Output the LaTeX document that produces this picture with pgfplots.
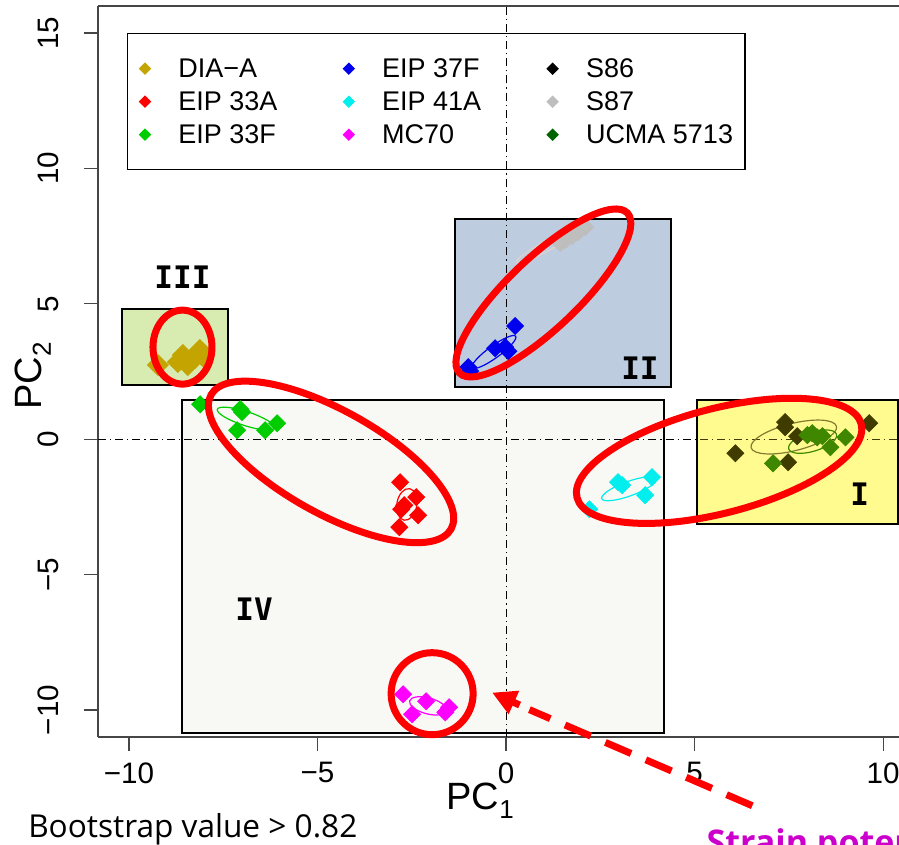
\documentclass[border=0pt]{standalone}
\usepackage{pgfplots}
\pgfplotsset{compat=1.18}
\usetikzlibrary{arrows.meta}
\usepackage{fontspec}
\setmainfont{Liberation Sans}
\newfontfamily\monob{DejaVu Sans Mono}
\newfontfamily\bootfont{Open Sans}
\definecolor{cDIA}{RGB}{196,164,0}
\definecolor{c33A}{RGB}{255,0,0}
\definecolor{c33F}{RGB}{0,205,0}
\definecolor{c37F}{RGB}{0,0,238}
\definecolor{c41A}{RGB}{0,238,238}
\definecolor{cMC}{RGB}{255,0,255}
\definecolor{cS86}{RGB}{0,0,0}
\definecolor{cS87}{RGB}{190,190,190}
\definecolor{cUCMA}{RGB}{0,100,0}
\definecolor{boxIII}{RGB}{216,236,178}
\definecolor{boxII}{RGB}{190,204,224}
\definecolor{boxIV}{RGB}{248,248,244}
\definecolor{boxI}{RGB}{255,255,190}
\definecolor{axgray}{RGB}{70,70,70}
\definecolor{strain}{RGB}{204,0,204}
\begin{document}
\begin{tikzpicture}
\begin{axis}[
  set layers,
  at={(0pt,0pt)}, anchor=south west,
  scale only axis, width=400.5pt, height=365.5pt,
  xmin=-10.82, xmax=10.42, ymin=-11.0, ymax=16.0,
  clip=false,
  axis x line*=bottom, axis y line*=left,
  axis line style={axgray, line width=0.6pt},
  xtick={-10,-5,0,5,10}, xticklabels={−10,−5,0,5,10},
  ytick={-10,-5,0,5,10,15}, yticklabels={−10,−5,0,5,10,15},
  tick align=outside, major tick length=7pt,
  tick style={axgray, line width=0.6pt},
  ticklabel style={font=\fontsize{14.8}{16}\selectfont, inner sep=0pt},
  xticklabel style={anchor=north},
  yticklabel style={rotate=90, anchor=south},
  xticklabel shift=5.5pt, yticklabel shift=12.5pt,
  pt/.style={only marks, mark=square*, mark size=3pt, mark options={rotate=45, draw=#1, fill=#1}},
  legend columns=3, transpose legend,
  legend cell align=left,
  legend image code/.code={\draw[#1, mark size=1.9pt] plot coordinates {(0pt,0pt)};},
  legend style={at={(axis cs:-10.05,15.0)}, anchor=north west, draw=black, line width=0.6pt, fill=none,
     font=\fontsize{13.5}{15}\selectfont, inner xsep=6pt, inner ysep=11.5pt,
     nodes={inner sep=0pt, text height=10.5pt, text depth=1.5pt},
     row sep=4.5pt, column sep=0pt,
     /tikz/every odd column/.append style={column sep=14pt},
     /tikz/every even column/.append style={column sep=33pt}},
]
% background boxes
\begin{pgfonlayer}{axis background}
\filldraw[fill=boxIII, draw=black, line width=1pt] (axis cs:-10.19,2.0) rectangle (axis cs:-7.36,4.81);
\filldraw[fill=boxII, draw=black, line width=1pt] (axis cs:-1.36,1.94) rectangle (axis cs:4.37,8.14);
\filldraw[fill=boxIV, draw=black, line width=1pt] (axis cs:-8.58,-10.85) rectangle (axis cs:4.18,1.45);
\filldraw[fill=boxI, draw=black, line width=1pt] (axis cs:5.06,-3.13) rectangle (axis cs:10.40,1.45);
\end{pgfonlayer}
% reference lines
\draw[black, line width=0.5pt, dash pattern=on 4pt off 2pt on 0.6pt off 2pt] (axis cs:0,-11) -- (axis cs:0,16);
\draw[black, line width=0.5pt, dash pattern=on 4pt off 2pt on 0.6pt off 2pt] (axis cs:-10.82,0) -- (axis cs:10.42,0);
\draw[axgray, line width=0.6pt] (rel axis cs:0,1) -- (rel axis cs:1,1);
% confidence ellipses of the strains
\draw[c37F, line width=0.6pt, rotate around={36:(axis cs:-0.32,3.22)}] (axis cs:-0.32,3.22) ellipse [x radius=13.4pt, y radius=3pt];
\draw[c33F, line width=0.6pt, rotate around={-18:(axis cs:-6.90,0.76)}] (axis cs:-6.90,0.76) ellipse [x radius=15pt, y radius=3.5pt];
\draw[c33A, line width=0.6pt, rotate around={-10:(axis cs:-2.63,-2.41)}] (axis cs:-2.63,-2.41) ellipse [x radius=5pt, y radius=8pt];
\draw[c41A, line width=0.6pt, rotate around={20:(axis cs:3.26,-1.83)}] (axis cs:3.26,-1.83) ellipse [x radius=14.5pt, y radius=3.6pt];
\draw[cMC, line width=0.6pt, rotate around={-15:(axis cs:-2.07,-9.85)}] (axis cs:-2.07,-9.85) ellipse [x radius=9.5pt, y radius=4pt];
\draw[black!75!yellow, line width=0.6pt, rotate around={14:(axis cs:7.63,0.08)}] (axis cs:7.63,0.08) ellipse [x radius=22pt, y radius=6.8pt];
\draw[cUCMA, line width=0.6pt, rotate around={17:(axis cs:8.13,-0.09)}] (axis cs:8.13,-0.09) ellipse [x radius=12.5pt, y radius=4.8pt];
\draw[cS87!70, line width=1pt, rotate around={28:(axis cs:1.22,7.24)}] (axis cs:1.22,7.24) ellipse [x radius=20pt, y radius=2.5pt];
% points
\addplot[pt=cDIA, mark size=3.7pt] coordinates {(-9.23,2.74) (-8.70,2.85) (-8.57,3.11) (-8.44,2.74) (-8.25,3.00) (-8.12,3.29) (-8.04,3.07)};
\addlegendentry{DIA−A}
\addplot[pt=c33A] coordinates {(-2.81,-1.59) (-2.38,-2.14) (-2.70,-2.44) (-2.78,-2.59) (-2.33,-2.81) (-2.83,-3.25)};
\addlegendentry{EIP 33A}
\addplot[pt=c33F] coordinates {(-8.11,1.29) (-7.00,1.00) (-7.05,1.11) (-6.07,0.59) (-6.39,0.33) (-7.13,0.33)};
\addlegendentry{EIP 33F}
\addplot[pt=c37F] coordinates {(-1.00,2.66) (-0.95,2.51) (-0.29,3.36) (-0.02,3.40) (0.06,3.25) (0.24,4.18)};
\addlegendentry{EIP 37F}
\addplot[pt=c41A] coordinates {(2.97,-1.59) (3.08,-1.70) (3.87,-1.40) (3.69,-2.07) (2.21,-2.59)};
\addlegendentry{EIP 41A}
\addplot[pt=cMC] coordinates {(-2.73,-9.42) (-2.12,-9.68) (-2.49,-10.16) (-1.51,-9.90) (-1.61,-10.09)};
\addlegendentry{MC70}
\addplot[pt=cS86] coordinates {(7.40,0.63) (7.40,0.44) (7.72,0.11) (6.08,-0.52) (7.48,-0.85) (9.63,0.59)};
\addlegendentry{S86}
\addplot[pt=cS87] coordinates {(1.57,7.35) (1.75,7.50) (1.91,7.65) (2.10,7.83) (1.44,7.24)};
\addlegendentry{S87}
\addplot[pt=cUCMA] coordinates {(7.99,0.15) (8.12,0.22) (8.25,0.07) (8.39,0.11) (8.60,-0.30) (9.00,0.07) (7.08,-0.89)};
\addlegendentry{UCMA 5713}
% foreground annotations
\begin{pgfonlayer}{axis foreground}
\fill[yellow, opacity=0.25] (axis cs:5.06,-3.13) rectangle (axis cs:10.40,1.45);
\draw[black, line width=1pt] (axis cs:5.06,-3.13) rectangle (axis cs:10.40,1.45);
\node[font=\monob\bfseries\fontsize{15.5}{16}\selectfont] at (axis cs:-8.58,5.97) {III};
\node[font=\monob\bfseries\fontsize{15.5}{16}\selectfont] at (axis cs:3.55,2.61) {II};
\node[font=\monob\bfseries\fontsize{15.5}{16}\selectfont] at (axis cs:9.38,-2.03) {I};
\node[font=\monob\bfseries\fontsize{15.5}{16}\selectfont] at (axis cs:-6.68,-6.28) {IV};
\draw[red, line width=3.5pt] (axis cs:-8.58,3.40) ellipse [x radius=14.75pt, y radius=18.5pt];
\draw[red, line width=3.5pt, rotate around={-29.2:(axis cs:-4.64,-0.84)}] (axis cs:-4.64,-0.84) ellipse [x radius=68.75pt, y radius=25.75pt];
\draw[red, line width=3.5pt, rotate around={43.6:(axis cs:0.99,5.40)}] (axis cs:0.99,5.40) ellipse [x radius=58pt, y radius=17.65pt];
\draw[red, line width=3.5pt, rotate around={14.5:(axis cs:5.65,-0.80)}] (axis cs:5.65,-0.80) ellipse [x radius=73.4pt, y radius=26.15pt];
\draw[red, line width=3.5pt] (axis cs:-1.96,-9.40) circle [radius=20.5pt];
\draw[red, line width=3.5pt, dash pattern=on 14pt off 8pt] (axis cs:6.53,-13.54) -- (axis cs:0.62,-9.99);
\draw[red, line width=3.5pt, -{Triangle[length=12pt,width=12pt]}] (axis cs:0.36,-9.82) -- (axis cs:-0.37,-9.36);
\node[anchor=base west, inner sep=0pt, font=\fontsize{19}{20}\selectfont] at (axis cs:-1.59,-13.66) {PC\raisebox{-4.5pt}{\fontsize{13}{13}\selectfont 1}};
\node[rotate=90, anchor=base west, inner sep=0pt, font=\fontsize{19}{20}\selectfont] at (axis cs:-12.31,1.08) {PC\raisebox{-4.5pt}{\fontsize{13}{13}\selectfont 2}};
\node[anchor=base west, inner sep=0pt, font=\bootfont\fontsize{15.8}{17}\selectfont] at (axis cs:-12.68,-14.73) {Bootstrap value > 0.82};
\node[anchor=north west, inner sep=0pt, text=strain, font=\bootfont\bfseries\fontsize{17}{18}\selectfont] at (axis cs:5.31,-14.36) {Strain potential};
\end{pgfonlayer}
\end{axis}
\pgfresetboundingbox
\useasboundingbox (-49pt,-54pt) rectangle (400.5pt,368.5pt);
\end{tikzpicture}
\end{document}
